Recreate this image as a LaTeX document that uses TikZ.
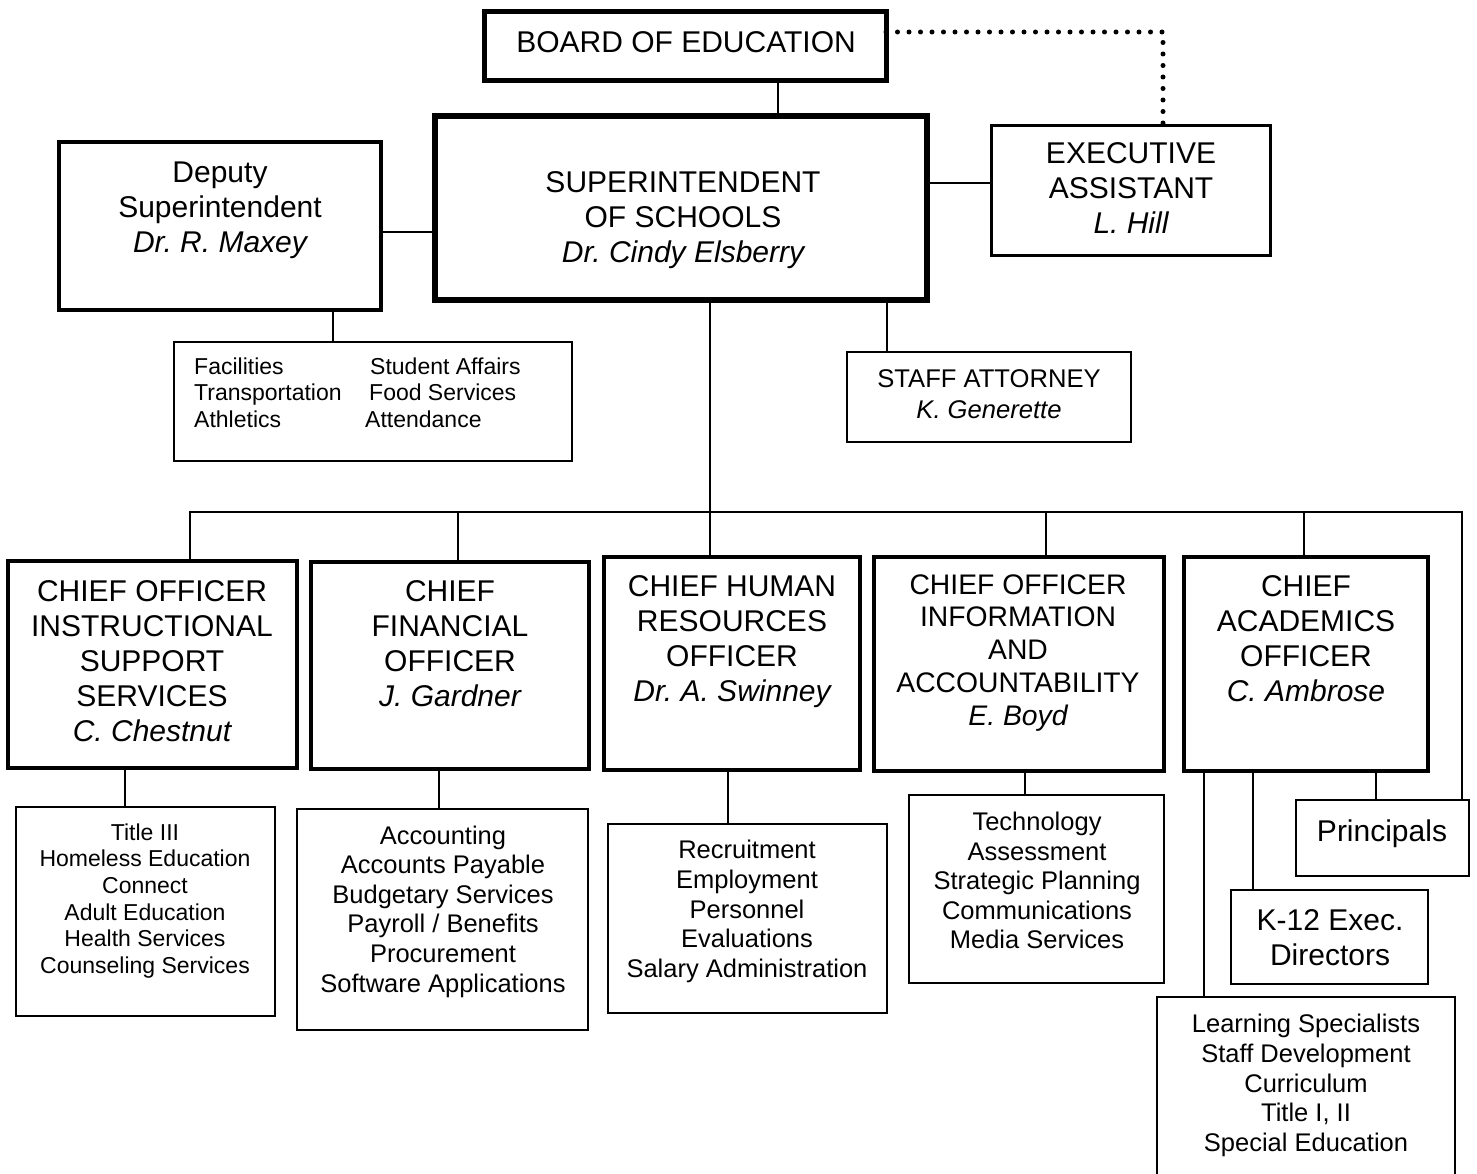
\documentclass[tikz,border=0pt]{standalone}
\usepackage{fontspec}
\setmainfont{Liberation Sans}
\usetikzlibrary{fit}
\frenchspacing
\newcommand\tA{\rule{0pt}{0.958em}}
\newcommand\tZ{\rule[-0.242em]{0pt}{0pt}}
\tikzset{
  box/.style={draw, inner sep=0pt, outer sep=0pt, line width=2.5pt},
  thickbox/.style={box, line width=4pt},
  ln/.style={line width=2.5pt},
  dots/.style={line width=5pt, line cap=round, dash pattern=on 0pt off 11.5pt},
  t30/.style={font=\fontsize{30}{35}\selectfont\frenchspacing, align=center, inner sep=0pt},
  t28/.style={font=\fontsize{28.3}{32.8}\selectfont\frenchspacing, align=center, inner sep=0pt},
  t26/.style={font=\fontsize{25.6}{31}\selectfont\frenchspacing, align=center, inner sep=0pt},
  t25/.style={font=\fontsize{25.5}{29.6}\selectfont\frenchspacing, align=center, inner sep=0pt},
  t23/.style={font=\fontsize{23}{26.6}\selectfont\frenchspacing, align=center, inner sep=0pt},
  t23l/.style={font=\fontsize{23}{26.5}\selectfont\frenchspacing, align=left, inner sep=0pt, anchor=west},
}
\begin{document}
\begin{tikzpicture}[x=1pt, y=-1pt]
\useasboundingbox (0,0) rectangle (1477,1174);
\fill[white] (0,0) rectangle (1477,1174);
\clip (0,0) rectangle (1477,1174);

% ---- boxes ----
\node[box, line width=5pt, fit={(484,12) (886,81)}] (board) {};
\node[box, line width=6pt, fit={(435,116) (927,300)}] (super) {};
\node[box, line width=4pt, fit={(59,142) (381,310)}] (deputy) {};
\node[box, fit={(174,342) (572,461)}] (depsub) {};
\node[box, line width=3pt, fit={(991,126) (1270,256)}] (exec) {};
\node[box, fit={(847,352) (1131,442)}] (attorney) {};

\node[thickbox, fit={(8,561) (297,768)}] (ciss) {};
\node[thickbox, fit={(311,562) (589,769)}] (cfo) {};
\node[thickbox, fit={(604,557) (860,770)}] (chro) {};
\node[thickbox, fit={(874,557) (1164,771)}] (coia) {};
\node[thickbox, fit={(1184,557) (1428,771)}] (cao) {};

\node[box, fit={(16,807) (275,1016)}] (isssub) {};
\node[box, fit={(297,809) (588,1030)}] (cfosub) {};
\node[box, fit={(608,824) (887,1013)}] (chrosub) {};
\node[box, fit={(909,795) (1164,983)}] (coiasub) {};
\node[box, fit={(1296,800) (1469,876)}] (principals) {};
\node[box, fit={(1231,890) (1428,984)}] (k12) {};
\node[box, fit={(1157,997) (1455,1200)}] (learn) {};

% ---- texts ----
\node[t30] (boardT) at (686,42) {\tA BOARD OF EDUCATION\tZ};
\node[t30] (superT) at (683,217) {\tA SUPERINTENDENT\\OF SCHOOLS\\\itshape Dr. Cindy Elsberry\tZ};
\node[t30] (deputyT) at (220,207) {\tA Deputy\\Superintendent\\\itshape Dr. R. Maxey\tZ};
\node[t30] (execT) at (1131,188) {\tA EXECUTIVE\\ASSISTANT\\\itshape L. Hill\tZ};
\node[t26] (attorneyT) at (989,393.5) {\tA STAFF ATTORNEY\\\itshape K. Generette\tZ};
\node[t23l] (depsubL) at (194,392.5) {\tA Facilities\\Transportation\\Athletics\tZ};
\node[t23l] (depsubR) at (365,392.5) {\tA\hspace*{5pt}Student Affairs\\\hspace*{4pt}Food Services\\Attendance\tZ};

\node[t30] (cissT) at (152,660.5) {\tA CHIEF OFFICER\\INSTRUCTIONAL\\SUPPORT\\SERVICES\\\itshape C. Chestnut\tZ};
\node[t30] (cfoT) at (450,643.5) {\tA CHIEF\\FINANCIAL\\OFFICER\\\itshape J. Gardner\tZ};
\node[t30] (chroT) at (732,638.5) {\tA CHIEF HUMAN\\RESOURCES\\OFFICER\\\itshape Dr. A. Swinney\tZ};
\node[t28] (coiaT) at (1018,649.5) {\tA CHIEF OFFICER\\INFORMATION\\AND\\ACCOUNTABILITY\\\itshape E. Boyd\tZ};
\node[t30] (caoT) at (1306,638.5) {\tA CHIEF\\ACADEMICS\\OFFICER\\\itshape C. Ambrose\tZ};

\node[t23] (isssubT) at (145,898.5) {\tA Title III\\Homeless Education\\Connect\\Adult Education\\Health Services\\Counseling Services\tZ};
\node[t25] (cfosubT) at (443,909) {\tA Accounting\\Accounts Payable\\Budgetary Services\\Payroll / Benefits\\Procurement\\Software Applications\tZ};
\node[t25] (chrosubT) at (747,909) {\tA Recruitment\\Employment\\Personnel\\Evaluations\\Salary Administration\tZ};
\node[t25] (coiasubT) at (1037,880.5) {\tA Technology\\Assessment\\Strategic Planning\\Communications\\Media Services\tZ};
\node[t30] (principalsT) at (1382,831) {\tA Principals\tZ};
\node[t30] (k12T) at (1330,937.5) {\tA K-12 Exec.\\Directors\tZ};
\node[t25] (learnT) at (1306,1083) {\tA Learning Specialists\\Staff Development\\Curriculum\\Title I, II\\Special Education\tZ};

% ---- connectors ----
\coordinate (busL) at (190,512);
\coordinate (busR) at (1462,512);
\draw[dots] (board.east |- 0,32) -- (1163,32) -- (exec.north -| 1163,0);
\draw[ln] (board.south -| 778,0) -- (super.north -| 778,0);
\draw[ln] (deputy.east |- 0,232) -- (super.west |- 0,232);
\draw[ln] (super.east |- 0,183) -- (exec.west |- 0,183);
\draw[ln] (deputy.south -| 333,0) -- (depsub.north -| 333,0);
\draw[ln] (super.south -| 887,0) -- (attorney.north -| 887,0);
\draw[ln] (super.south -| 710,0) -- (chro.north -| 710,0);
\draw[ln] (ciss.north -| busL) -- (busL) -- (busR) -- (principals.north -| busR);
\draw[ln] (cfo.north -| 458,0) -- (458,512);
\draw[ln] (coia.north -| 1046,0) -- (1046,512);
\draw[ln] (cao.north -| 1304,0) -- (1304,512);
\draw[ln] (ciss.south -| 125,0) -- (isssub.north -| 125,0);
\draw[ln] (cfo.south -| 439,0) -- (cfosub.north -| 439,0);
\draw[ln] (chro.south -| 728,0) -- (chrosub.north -| 728,0);
\draw[ln] (coia.south -| 1025,0) -- (coiasub.north -| 1025,0);
\draw[ln] (cao.south -| 1376,0) -- (principals.north -| 1376,0);
\draw[ln] (cao.south -| 1253,0) -- (k12.north -| 1253,0);
\draw[ln] (cao.south -| 1204,0) -- (learn.north -| 1204,0);
\end{tikzpicture}
\end{document}
